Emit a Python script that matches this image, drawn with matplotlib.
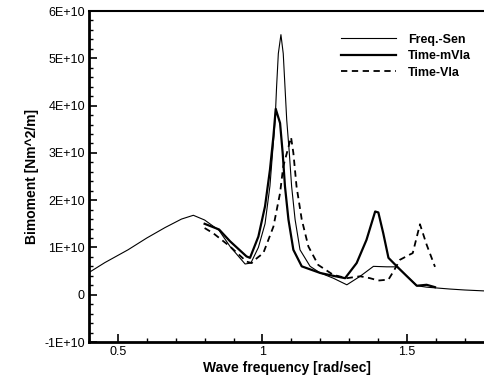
import numpy as np
import matplotlib
matplotlib.use("Agg")
import matplotlib.pyplot as plt
from matplotlib.ticker import MultipleLocator

# values in units of 1E+10 Nm^2/m
freq_sen_x = [0.40, 0.455, 0.535, 0.60, 0.663, 0.72, 0.761, 0.80, 0.85, 0.888, 0.94, 0.96,
              0.986, 1.009, 1.026, 1.044, 1.049, 1.055, 1.064, 1.072, 1.078, 1.084, 1.093,
              1.101, 1.113, 1.13, 1.165, 1.20, 1.245, 1.292, 1.338, 1.384, 1.43, 1.465,
              1.50, 1.534, 1.568, 1.649, 1.70, 1.77]
freq_sen_y = [0.47, 0.68, 0.95, 1.20, 1.42, 1.60, 1.68, 1.58, 1.36, 1.02, 0.65, 0.67,
              1.00, 1.50, 2.30, 3.70, 4.40, 5.10, 5.50, 5.10, 4.40, 3.70, 3.00,
              2.29, 1.59, 0.95, 0.60, 0.46, 0.35, 0.21, 0.39, 0.60, 0.59, 0.59,
              0.39, 0.19, 0.16, 0.12, 0.10, 0.08]

time_mvla_x = [0.80, 0.85, 0.888, 0.945, 0.957, 0.986, 1.009, 1.026, 1.038, 1.046, 1.061,
               1.07, 1.078, 1.09, 1.107, 1.136, 1.2, 1.245, 1.286, 1.326, 1.36, 1.39,
               1.401, 1.418, 1.436, 1.465, 1.50, 1.534, 1.568, 1.597]
time_mvla_y = [1.50, 1.38, 1.13, 0.81, 0.78, 1.23, 1.87, 2.64, 3.35, 3.93, 3.63,
               3.00, 2.29, 1.59, 0.95, 0.60, 0.46, 0.40, 0.35, 0.67, 1.16, 1.76,
               1.74, 1.30, 0.78, 0.60, 0.39, 0.19, 0.21, 0.16]

time_vla_x = [0.80, 0.83, 0.888, 0.945, 0.963, 0.974, 1.003, 1.038, 1.061, 1.072, 1.099,
              1.107, 1.118, 1.136, 1.159, 1.193, 1.245, 1.292, 1.338, 1.372, 1.401, 1.436,
              1.453, 1.476, 1.51, 1.52, 1.545, 1.568, 1.597]
time_vla_y = [1.41, 1.30, 1.02, 0.70, 0.67, 0.74, 0.88, 1.44, 2.15, 2.71, 3.33,
              3.00, 2.29, 1.59, 1.02, 0.63, 0.42, 0.35, 0.39, 0.35, 0.30, 0.32,
              0.49, 0.74, 0.85, 0.88, 1.49, 1.06, 0.59]

yticks = [-1, 0, 1, 2, 3, 4, 5, 6]
ytick_labels = ["-1E+10", "0", "1E+10", "2E+10", "3E+10", "4E+10", "5E+10", "6E+10"]
xticks = [0.5, 1.0, 1.5]
xtick_labels = ["0.5", "1", "1.5"]

plt.rcParams["font.family"] = ["Liberation Sans", "DejaVu Sans"]

fig = plt.figure(figsize=(4.85, 3.76), dpi=100)
ax = fig.add_axes([0.1835, 0.0904, 0.8165, 0.8803])

ax.plot(freq_sen_x, freq_sen_y, color="black", lw=0.8, label="Freq.-Sen")
ax.plot(time_mvla_x, time_mvla_y, color="black", lw=1.6, label="Time-mVla")
ax.plot(time_vla_x, time_vla_y, color="black", lw=1.3, ls=(0, (3.5, 2.5)), label="Time-Vla")

ax.set_xlim(0.4, 1.77)
ax.set_ylim(-1, 6)
ax.set_xticks(xticks)
ax.set_xticklabels(xtick_labels, fontsize=9)
ax.set_yticks(yticks)
ax.set_yticklabels(ytick_labels, fontsize=9)
ax.xaxis.set_minor_locator(MultipleLocator(0.1))
ax.yaxis.set_minor_locator(MultipleLocator(0.2))
ax.tick_params(which="major", direction="in", length=6, width=1.2, pad=3)
ax.tick_params(which="minor", direction="in", length=3, width=1.0)
ax.tick_params(top=False, right=False, which="both")

ax.spines["right"].set_visible(False)
ax.spines["left"].set_linewidth(2)
ax.spines["bottom"].set_linewidth(2)
ax.spines["top"].set_linewidth(1.5)

ax.set_xlabel("Wave frequency [rad/sec]", fontsize=10, fontweight="bold", labelpad=2)
ax.set_ylabel("Bimoment [Nm^2/m]", fontsize=10, fontweight="bold", labelpad=4)

ax.legend(loc="upper left", bbox_to_anchor=(0.62, 0.95), frameon=False,
          handlelength=4.4, handletextpad=1.0, labelspacing=0.35, borderpad=0,
          prop={"size": 9, "weight": "bold"})

fig.savefig("out.png", dpi=100)
